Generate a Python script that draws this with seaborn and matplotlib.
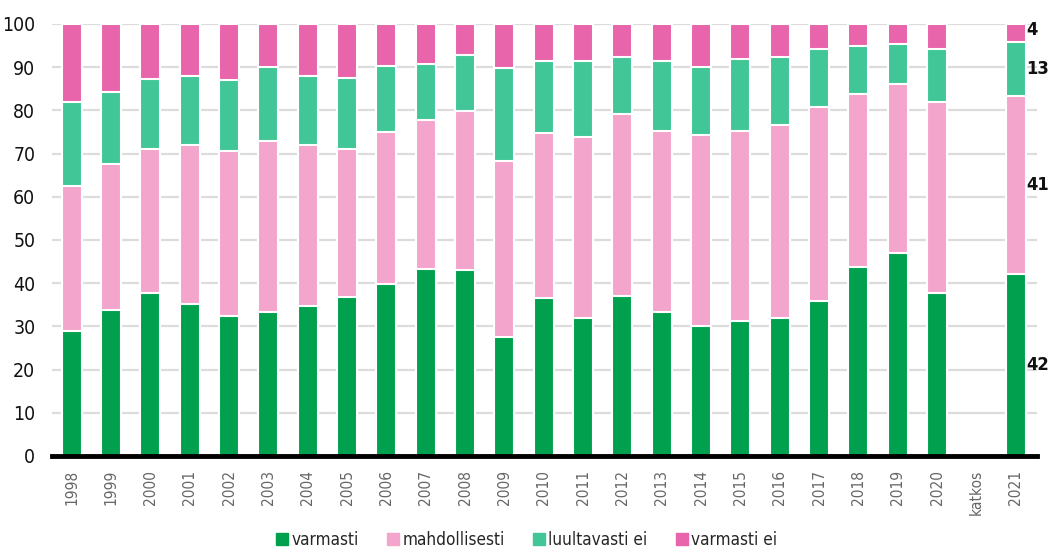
import numpy as np
import pandas as pd
import matplotlib
matplotlib.use("Agg")
import matplotlib.pyplot as plt
from matplotlib import font_manager as fm
from matplotlib.lines import Line2D
import seaborn as sns

# Data (percent)
years = ["1998", "1999", "2000", "2001", "2002", "2003", "2004", "2005", "2006",
         "2007", "2008", "2009", "2010", "2011", "2012", "2013", "2014", "2015",
         "2016", "2017", "2018", "2019", "2020", "katkos", "2021"]
varmasti = [29.0, 33.8, 37.7, 35.1, 32.4, 33.3, 34.6, 36.9, 39.7, 43.2, 43.0, 27.5,
            36.5, 31.9, 37.0, 33.3, 30.1, 31.3, 31.9, 35.9, 43.8, 46.9, 37.7, np.nan, 42.0]
mahdollisesti = [33.5, 33.8, 33.3, 36.9, 38.2, 39.5, 37.3, 34.2, 35.2, 34.6, 36.8, 40.8,
                 38.3, 41.9, 42.2, 41.9, 44.2, 43.9, 44.6, 44.9, 40.0, 39.2, 44.3, np.nan, 41.3]
luultavasti_ei = [19.5, 16.7, 16.3, 15.9, 16.5, 17.3, 16.0, 16.4, 15.4, 12.9, 13.0, 21.5,
                  16.7, 17.6, 13.1, 16.3, 15.7, 16.7, 15.8, 13.3, 11.1, 9.3, 12.1, np.nan, 12.6]
varmasti_ei = [18.0, 15.7, 12.7, 12.1, 12.9, 9.9, 12.1, 12.5, 9.7, 9.3, 7.2, 10.2,
               8.5, 8.6, 7.7, 8.5, 10.0, 8.1, 7.7, 5.9, 5.1, 4.6, 5.9, np.nan, 4.1]
last_labels = ["42", "41", "13", "4"]

series_names = ["varmasti", "mahdollisesti", "luultavasti ei", "varmasti ei"]
colors = ["#00A04E", "#F4A5CC", "#41C697", "#E864AB"]

df = pd.DataFrame({"vuosi": years, "varmasti": varmasti,
                   "mahdollisesti": mahdollisesti,
                   "luultavasti ei": luultavasti_ei,
                   "varmasti ei": varmasti_ei})
cum = df[series_names].cumsum(axis=1)

# pick a narrow font if one is installed, otherwise Liberation Sans a bit smaller
fonts = fm.fontManager.ttflist
names = {f.name for f in fonts}
stretch = "normal"
if "Liberation Sans Narrow" in names:
    main_font, scale = "Liberation Sans Narrow", 1.05
elif any(f.name == "DejaVu Sans" and str(f.stretch) in ("condensed", "semi-condensed")
         for f in fonts):
    main_font, scale, stretch = "DejaVu Sans", 0.82, "condensed"
else:
    main_font, scale = "Liberation Sans", 0.8

sns.set_style("white")
plt.rcParams["font.family"] = [main_font, "DejaVu Sans"]
plt.rcParams["font.stretch"] = stretch

fig = plt.figure(figsize=(10.51, 5.58), dpi=100)
ax = fig.add_axes([0.0495, 0.183, 0.9375, 0.774])

# stacked bars: draw cumulative totals from the top down
for name, col in reversed(list(zip(series_names, colors))):
    sns.barplot(x=df["vuosi"], y=cum[name], order=years, color=col, width=0.51,
                saturation=1, edgecolor="white", linewidth=1.5, errorbar=None,
                ax=ax, zorder=2)

ax.set_xlim(-0.5, len(years) - 0.45)
ax.set_ylim(0, 100)
ax.set_yticks(range(0, 101, 10))
ax.yaxis.grid(True, color="#dcdcdc", lw=1.6)
ax.set_axisbelow(True)
for s in ["top", "right", "left"]:
    ax.spines[s].set_visible(False)
ax.spines["bottom"].set_color("black")
ax.spines["bottom"].set_linewidth(3.5)
ax.spines["bottom"].set_zorder(5)
ax.set_xlabel("")
ax.set_ylabel("")
ax.tick_params(axis="y", length=0, pad=12, labelsize=17 * scale)
ax.tick_params(axis="x", length=0, pad=10)
for lbl in ax.get_yticklabels():
    lbl.set_color("#111111")
ax.set_xticks(range(len(years)))
ax.set_xticklabels(years, rotation=90, fontsize=13.5 * scale, color="#666666")

# value labels for the last year
i = len(years) - 1
bottoms = [0] + list(cum.iloc[i, :-1])
for k, name in enumerate(series_names):
    mid = bottoms[k] + df[name].iloc[i] / 2
    if k == 3:
        mid = 98.6
    ax.text(i + 0.27, mid, last_labels[k], ha="left", va="center",
            fontsize=16 * scale, fontweight="bold", color="#111111", clip_on=False)

handles = [Line2D([0], [0], marker="s", color="w", markerfacecolor=c,
                  markeredgecolor=c, markersize=9, lw=0) for c in colors]
fig.legend(handles, series_names, loc="lower center", ncol=4, frameon=False,
           fontsize=15 * scale, bbox_to_anchor=(0.5, -0.012), handletextpad=0.05,
           columnspacing=1.5, handlelength=1.0)

fig.savefig("out.png", dpi=100)
